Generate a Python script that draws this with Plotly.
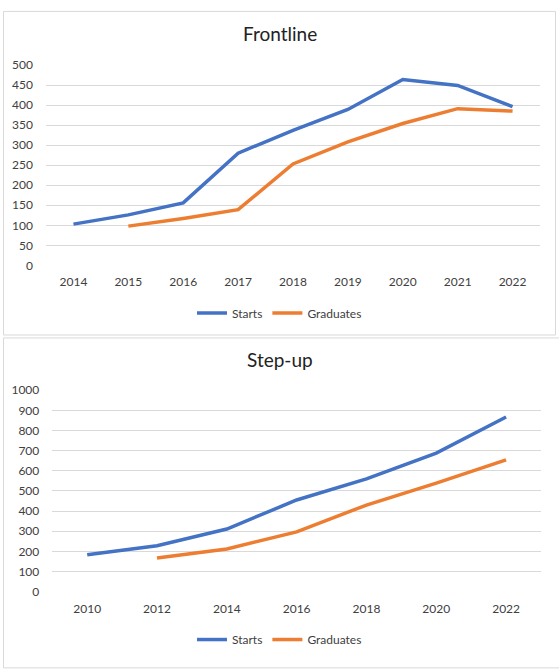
import plotly.graph_objects as go

W, H = 559, 670

# Frontline data
fl_years = [2014, 2015, 2016, 2017, 2018, 2019, 2020, 2021, 2022]
fl_starts = [103, 126, 156, 280, 337, 389, 464, 449, 396]
fl_grads = [None, 98, 117, 139, 253, 308, 354, 391, 385]

# Step-up data
su_years = [2010, 2012, 2014, 2016, 2018, 2020, 2022]
su_starts = [183, 228, 311, 455, 560, 688, 867]
su_grads = [None, 167, 212, 297, 430, 539, 654]

BLUE = "#4472C4"
ORANGE = "#ED7D31"
GRID = "#d9d9d9"
TXT = "#404040"
FONT = "Lato"
LW = 3.5


def px_x(p):
    return p / W


def px_y(p):
    return 1 - p / H


fig = go.Figure()

fig.add_trace(go.Scatter(x=fl_years, y=fl_starts, name="Starts", mode="lines",
                         line=dict(color=BLUE, width=LW), xaxis="x", yaxis="y",
                         legend="legend"))
fig.add_trace(go.Scatter(x=fl_years, y=fl_grads, name="Graduates", mode="lines",
                         line=dict(color=ORANGE, width=LW), xaxis="x", yaxis="y",
                         legend="legend"))
fig.add_trace(go.Scatter(x=su_years, y=su_starts, name="Starts", mode="lines",
                         line=dict(color=BLUE, width=LW), xaxis="x2", yaxis="y2",
                         legend="legend2"))
fig.add_trace(go.Scatter(x=su_years, y=su_grads, name="Graduates", mode="lines",
                         line=dict(color=ORANGE, width=LW), xaxis="x2", yaxis="y2",
                         legend="legend2"))

axis_font = dict(family=FONT, size=12, color=TXT)

fig.update_layout(
    width=W, height=H,
    margin=dict(l=0, r=0, t=0, b=0),
    paper_bgcolor="white", plot_bgcolor="white",
    font=dict(family=FONT, size=12, color=TXT),
    xaxis=dict(domain=[px_x(46), px_x(540)], range=[2013.5, 2022.5],
               tickmode="array", tickvals=fl_years, ticktext=[str(y) for y in fl_years],
               showgrid=False, zeroline=False, showline=False, ticks="",
               tickfont=axis_font, ticklabelstandoff=8, anchor="y", fixedrange=True),
    yaxis=dict(domain=[px_y(263.3), px_y(58.3)], range=[0, 500], dtick=50,
               showgrid=True, gridcolor=GRID, gridwidth=1, zeroline=False,
               showline=False, ticks="", tickfont=axis_font, ticklabelstandoff=12,
               anchor="x"),
    xaxis2=dict(domain=[px_x(52.3), px_x(541)], range=[2009, 2023],
                tickmode="array", tickvals=su_years, ticktext=[str(y) for y in su_years],
                showgrid=False, zeroline=False, showline=False, ticks="",
                tickfont=axis_font, ticklabelstandoff=8, anchor="y2"),
    yaxis2=dict(domain=[px_y(597), px_y(391)], range=[0, 1000], dtick=100,
                showgrid=True, gridcolor=GRID, gridwidth=1, zeroline=False,
                showline=False, ticks="", tickfont=axis_font, ticklabelstandoff=12,
                anchor="x2"),
    legend=dict(orientation="h", x=0.5, xanchor="center", y=px_y(312), yanchor="middle",
                font=dict(family=FONT, size=12, color=TXT), bgcolor="rgba(0,0,0,0)",
                itemwidth=30, tracegroupgap=0),
    legend2=dict(orientation="h", x=0.5, xanchor="center", y=px_y(646), yanchor="middle",
                 font=dict(family=FONT, size=12, color=TXT), bgcolor="rgba(0,0,0,0)",
                 itemwidth=30, tracegroupgap=0),
    showlegend=True,
)

# Chart borders
fig.add_shape(type="rect", xref="paper", yref="paper",
              x0=px_x(3.5), x1=px_x(555.5), y0=px_y(334.5), y1=px_y(3.5),
              line=dict(color=GRID, width=1), fillcolor="rgba(0,0,0,0)", layer="below")
fig.add_shape(type="rect", xref="paper", yref="paper",
              x0=px_x(3.5), x1=px_x(565), y0=px_y(675), y1=px_y(337.5),
              line=dict(color=GRID, width=1), fillcolor="rgba(0,0,0,0)", layer="below")

# Titles
fig.add_annotation(text="Frontline", xref="paper", yref="paper", x=px_x(280), y=px_y(26),
                   xanchor="center", yanchor="middle", showarrow=False,
                   font=dict(family=FONT, size=19, color="#222222"))
fig.add_annotation(text="Step-up", xref="paper", yref="paper", x=px_x(280), y=px_y(360),
                   xanchor="center", yanchor="middle", showarrow=False,
                   font=dict(family=FONT, size=19, color="#222222"))

fig.write_html("out.html")
